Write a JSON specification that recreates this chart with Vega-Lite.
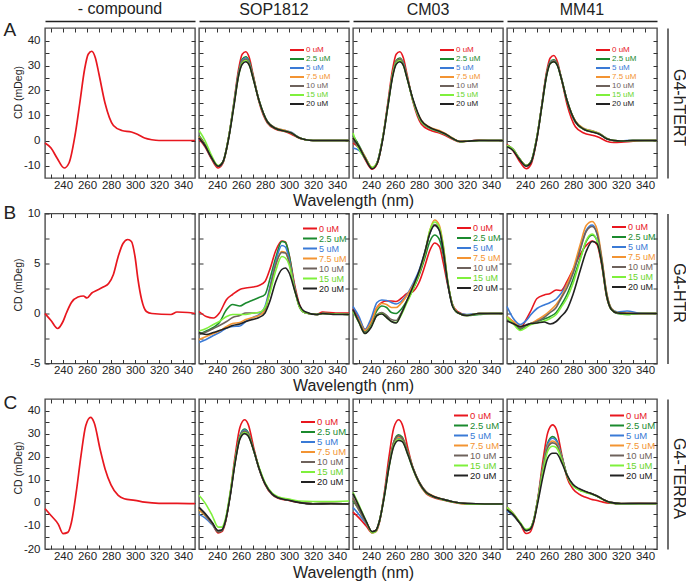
{
"$schema": "https://vega.github.io/schema/vega-lite/v6.json",
"background": "white",
"padding": {"left": 2, "top": 0, "right": 0, "bottom": 0},
"datasets": {"d": [
{"p":"A1","x":225,"a":-1},{"p":"A1","x":230,"a":-3},{"p":"A1","x":235,"a":-7},{"p":"A1","x":241,"a":-11},{"p":"A1","x":245,"a":-9},{"p":"A1","x":250,"a":2},{"p":"A1","x":254,"a":15},{"p":"A1","x":258,"a":28.5},{"p":"A1","x":261,"a":34.5},{"p":"A1","x":264,"a":35.7},{"p":"A1","x":267,"a":33},{"p":"A1","x":270,"a":26.5},{"p":"A1","x":275,"a":15},{"p":"A1","x":282,"a":6},{"p":"A1","x":289,"a":4},{"p":"A1","x":297,"a":3.4},{"p":"A1","x":302,"a":2.5},{"p":"A1","x":308,"a":1},{"p":"A1","x":314,"a":0.3},{"p":"A1","x":320,"a":0},{"p":"A1","x":330,"a":0},{"p":"A1","x":340,"a":0},{"p":"A1","x":350,"a":0},
{"p":"A2","x":225,"a":0.5,"b":2,"c":1,"d":1.5,"e":1,"f":4,"g":1},
{"p":"A2","x":230,"a":-2.5,"b":-1.5,"c":-2,"d":-1.8,"e":-2,"f":0,"g":-2},
{"p":"A2","x":235,"a":-7,"b":-6.5,"c":-6.5,"d":-6.5,"e":-6.5,"f":-5.5,"g":-6.5},
{"p":"A2","x":241,"a":-11,"b":-10.3,"c":-10.3,"d":-10.3,"e":-10.3,"f":-10,"g":-10.3},
{"p":"A2","x":245,"a":-9,"b":-8.5,"c":-8.5,"d":-8.5,"e":-8.5,"f":-8.5,"g":-8.5},
{"p":"A2","x":250,"a":2,"b":2,"c":2,"d":2,"e":2,"f":2,"g":1.5},
{"p":"A2","x":254,"a":15,"b":14.5,"c":14.5,"d":14,"e":14,"f":14,"g":13.5},
{"p":"A2","x":258,"a":28.5,"b":27,"c":27,"d":26.5,"e":26.5,"f":26,"g":26},
{"p":"A2","x":261,"a":34.5,"b":32.5,"c":32,"d":31.5,"e":31.5,"f":31,"g":30.5},
{"p":"A2","x":264,"a":35.5,"b":33.5,"c":33,"d":32.5,"e":32.5,"f":32,"g":31.5},
{"p":"A2","x":267,"a":33,"b":31.5,"c":31,"d":30.5,"e":30.5,"f":30,"g":30},
{"p":"A2","x":270,"a":26.5,"b":26,"c":25.5,"d":25.5,"e":25.5,"f":25,"g":25},
{"p":"A2","x":275,"a":15.5,"b":16,"c":16,"d":16,"e":16,"f":16,"g":16},
{"p":"A2","x":282,"a":7,"b":7.5,"c":7.5,"d":7.5,"e":7.5,"f":7.5,"g":7.5},
{"p":"A2","x":289,"a":4.5,"b":4.8,"c":5,"d":5,"e":4.8,"f":4.8,"g":4.8},
{"p":"A2","x":297,"a":3.5,"b":3.8,"c":4,"d":4,"e":3.7,"f":3.7,"g":3.7},
{"p":"A2","x":302,"a":2.5,"b":3,"c":3.3,"d":3,"e":3,"f":3,"g":3},
{"p":"A2","x":308,"a":1,"b":1.2,"c":1.2,"d":1.2,"e":1.2,"f":1.2,"g":1.2},
{"p":"A2","x":314,"a":0.3,"b":0.3,"c":0.3,"d":0.3,"e":0.3,"f":0.3,"g":0.3},
{"p":"A2","x":320,"a":0,"b":0,"c":0,"d":0,"e":0,"f":0,"g":0},
{"p":"A2","x":330,"a":0,"b":0,"c":0,"d":0,"e":0,"f":0,"g":0},
{"p":"A2","x":340,"a":0,"b":0,"c":0,"d":0,"e":0,"f":0,"g":0},
{"p":"A2","x":350,"a":0,"b":0,"c":0,"d":0,"e":0,"f":0,"g":0},
{"p":"A3","x":225,"a":-1,"b":2,"c":-3,"d":1,"e":0,"f":3,"g":1},
{"p":"A3","x":230,"a":-3,"b":-2,"c":-4,"d":-2.5,"e":-3,"f":-3.5,"g":-2.5},
{"p":"A3","x":235,"a":-7.5,"b":-6.5,"c":-7,"d":-6.5,"e":-7,"f":-7,"g":-7},
{"p":"A3","x":241,"a":-11.5,"b":-11,"c":-11,"d":-10.8,"e":-11,"f":-10.8,"g":-11.3},
{"p":"A3","x":245,"a":-9.5,"b":-9,"c":-9,"d":-9,"e":-9,"f":-9,"g":-9.3},
{"p":"A3","x":250,"a":1.5,"b":1.5,"c":1.5,"d":1.5,"e":1.5,"f":1.5,"g":1},
{"p":"A3","x":254,"a":15,"b":14,"c":14,"d":14,"e":14,"f":13.5,"g":13.5},
{"p":"A3","x":258,"a":28.5,"b":26.5,"c":26.5,"d":26.5,"e":26,"f":26,"g":25.5},
{"p":"A3","x":261,"a":34.5,"b":32,"c":31.5,"d":31.5,"e":31.5,"f":31,"g":30.5},
{"p":"A3","x":264,"a":35.5,"b":33,"c":32.5,"d":32.5,"e":32.5,"f":32,"g":31.5},
{"p":"A3","x":267,"a":33,"b":31,"c":31,"d":30.5,"e":30.5,"f":30,"g":30},
{"p":"A3","x":270,"a":26.5,"b":25.5,"c":25.5,"d":25.5,"e":25.5,"f":25,"g":25},
{"p":"A3","x":275,"a":15.5,"b":16,"c":16,"d":16,"e":16,"f":16,"g":16.5},
{"p":"A3","x":282,"a":6.5,"b":7.5,"c":7.5,"d":8,"e":7.5,"f":7.5,"g":8},
{"p":"A3","x":289,"a":4.2,"b":5,"c":5,"d":5.3,"e":5,"f":5,"g":5.2},
{"p":"A3","x":297,"a":3,"b":3.5,"c":3.5,"d":4,"e":3.5,"f":3.5,"g":3.7},
{"p":"A3","x":302,"a":2,"b":2.5,"c":2.5,"d":2.8,"e":2.5,"f":2.5,"g":2.6},
{"p":"A3","x":308,"a":0.5,"b":0.8,"c":0.8,"d":1,"e":0.8,"f":0.8,"g":0.8},
{"p":"A3","x":314,"a":-0.5,"b":-0.4,"c":-0.4,"d":-0.3,"e":-0.4,"f":-0.5,"g":-0.4},
{"p":"A3","x":320,"a":-0.3,"b":-0.3,"c":-0.2,"d":-0.2,"e":-0.3,"f":-0.3,"g":-0.3},
{"p":"A3","x":330,"a":0.2,"b":0,"c":0,"d":0,"e":0,"f":0,"g":0},
{"p":"A3","x":340,"a":0,"b":0,"c":0,"d":0,"e":0,"f":0,"g":0},
{"p":"A3","x":350,"a":0,"b":0,"c":0,"d":0,"e":0,"f":0,"g":0},
{"p":"A4","x":225,"a":-1.5,"b":-2,"c":-2,"d":-2,"e":-2.2,"f":-2,"g":-2.5},
{"p":"A4","x":230,"a":-4,"b":-3.5,"c":-3.5,"d":-3.5,"e":-3.5,"f":-3.5,"g":-4},
{"p":"A4","x":235,"a":-8,"b":-7,"c":-7,"d":-7,"e":-7,"f":-7,"g":-7.3},
{"p":"A4","x":241,"a":-11.3,"b":-10,"c":-10,"d":-10,"e":-10,"f":-10,"g":-10.3},
{"p":"A4","x":245,"a":-9.5,"b":-8.5,"c":-8.5,"d":-8.5,"e":-8.5,"f":-8.5,"g":-8.7},
{"p":"A4","x":250,"a":1,"b":1.5,"c":1.5,"d":1.5,"e":1.5,"f":1.5,"g":1},
{"p":"A4","x":254,"a":14,"b":14,"c":14,"d":14,"e":14,"f":13.5,"g":13.5},
{"p":"A4","x":258,"a":27.5,"b":26.5,"c":26.5,"d":26.5,"e":26.5,"f":26,"g":26},
{"p":"A4","x":261,"a":33,"b":31.5,"c":31.3,"d":31,"e":31,"f":30.8,"g":30.8},
{"p":"A4","x":264,"a":34,"b":32.3,"c":32,"d":31.8,"e":31.8,"f":31.5,"g":31.5},
{"p":"A4","x":267,"a":31.5,"b":30.5,"c":30.3,"d":30.3,"e":30.3,"f":30,"g":30},
{"p":"A4","x":270,"a":25.5,"b":25.5,"c":25.5,"d":25.5,"e":25.5,"f":25.3,"g":25.3},
{"p":"A4","x":275,"a":14.5,"b":16,"c":16,"d":16,"e":16,"f":16,"g":16},
{"p":"A4","x":282,"a":5.5,"b":7.5,"c":7.5,"d":7.8,"e":7.5,"f":7.5,"g":7.5},
{"p":"A4","x":289,"a":3,"b":4.5,"c":4.8,"d":4.8,"e":4.5,"f":4.5,"g":4.5},
{"p":"A4","x":297,"a":2,"b":3.5,"c":3.7,"d":3.7,"e":3.3,"f":3.5,"g":3.3},
{"p":"A4","x":302,"a":1.2,"b":2.6,"c":2.8,"d":2.8,"e":2.6,"f":2.6,"g":2.5},
{"p":"A4","x":308,"a":-0.3,"b":0.8,"c":0.8,"d":0.8,"e":0.8,"f":0.8,"g":0.7},
{"p":"A4","x":314,"a":-0.8,"b":0,"c":0,"d":0,"e":0,"f":0,"g":0},
{"p":"A4","x":320,"a":-0.7,"b":-0.2,"c":-0.2,"d":-0.2,"e":-0.2,"f":-0.2,"g":-0.2},
{"p":"A4","x":330,"a":-0.3,"b":0,"c":0.1,"d":0,"e":0,"f":0,"g":0},
{"p":"A4","x":340,"a":0,"b":0,"c":0,"d":0,"e":0,"f":0,"g":0},
{"p":"A4","x":350,"a":0,"b":0,"c":0,"d":0,"e":0,"f":0,"g":0},
{"p":"B1","x":225,"a":0},{"p":"B1","x":230,"a":-0.7},{"p":"B1","x":235.5,"a":-1.5},{"p":"B1","x":240,"a":-0.8},{"p":"B1","x":243,"a":0.1},{"p":"B1","x":247,"a":1.1},{"p":"B1","x":252.5,"a":1.65},{"p":"B1","x":257,"a":1.75},{"p":"B1","x":260,"a":1.55},{"p":"B1","x":264,"a":2.05},{"p":"B1","x":268,"a":2.3},{"p":"B1","x":273.5,"a":2.65},{"p":"B1","x":278,"a":3.0},{"p":"B1","x":282,"a":3.9},{"p":"B1","x":286,"a":5.7},{"p":"B1","x":290,"a":7.0},{"p":"B1","x":294,"a":7.4},{"p":"B1","x":297,"a":7.2},{"p":"B1","x":300,"a":5.7},{"p":"B1","x":302.5,"a":3.4},{"p":"B1","x":305.5,"a":1.4},{"p":"B1","x":309.5,"a":0.2},{"p":"B1","x":314,"a":0},{"p":"B1","x":330,"a":-0.1},{"p":"B1","x":335,"a":0.15},{"p":"B1","x":344,"a":0.1},{"p":"B1","x":350,"a":0},
{"p":"B2","x":225,"a":0.2,"b":-2.1,"c":-2.9,"d":-2.6,"e":-2.1,"f":-1.75,"g":-1.9},
{"p":"B2","x":231,"a":-0.3,"b":-1.75,"c":-2.6,"d":-2.3,"e":-1.85,"f":-1.5,"g":-2.1},
{"p":"B2","x":237,"a":-0.45,"b":-1.4,"c":-2.2,"d":-2.0,"e":-1.5,"f":-1.1,"g":-1.9},
{"p":"B2","x":242,"a":0.05,"b":-0.9,"c":-1.9,"d":-1.75,"e":-1.2,"f":-0.8,"g":-1.7},
{"p":"B2","x":248,"a":1.4,"b":0.4,"c":-1.45,"d":-1.3,"e":-0.8,"f":-0.3,"g":-1.45},
{"p":"B2","x":253,"a":1.9,"b":0.9,"c":-1.3,"d":-1.0,"e":-0.4,"f":-0.1,"g":-1.2},
{"p":"B2","x":259,"a":2.4,"b":0.75,"c":-1.25,"d":-0.9,"e":-0.2,"f":-0.1,"g":-1.05},
{"p":"B2","x":264,"a":2.55,"b":1.05,"c":-0.8,"d":-0.6,"e":0.05,"f":-0.1,"g":-0.8},
{"p":"B2","x":270,"a":2.65,"b":1.35,"c":-0.4,"d":-0.4,"e":0.05,"f":0.05,"g":-0.6},
{"p":"B2","x":275,"a":2.8,"b":1.6,"c":-0.1,"d":-0.2,"e":0.1,"f":0.1,"g":-0.4},
{"p":"B2","x":280,"a":3.2,"b":1.9,"c":0.7,"d":0.3,"e":0.45,"f":0.6,"g":0.05},
{"p":"B2","x":284,"a":4.4,"b":3.4,"c":2.6,"d":2.2,"e":2.4,"f":2.0,"g":1.2},
{"p":"B2","x":289,"a":6.3,"b":5.6,"c":5.2,"d":4.9,"e":4.9,"f":4.3,"g":3.2},
{"p":"B2","x":294,"a":7.25,"b":7.2,"c":6.8,"d":6.2,"e":6.1,"f":5.7,"g":4.4},
{"p":"B2","x":297,"a":7.15,"b":7.1,"c":6.65,"d":6.1,"e":6.05,"f":5.55,"g":4.55},
{"p":"B2","x":300,"a":5.9,"b":5.9,"c":5.5,"d":5.2,"e":5.2,"f":4.9,"g":4.1},
{"p":"B2","x":305,"a":2.7,"b":2.4,"c":2.4,"d":2.3,"e":2.3,"f":2.2,"g":2.2},
{"p":"B2","x":309,"a":0.8,"b":0.6,"c":0.6,"d":0.6,"e":0.6,"f":0.6,"g":0.8},
{"p":"B2","x":313,"a":0.1,"b":0.1,"c":0.1,"d":0.1,"e":0.1,"f":0.1,"g":0.2},
{"p":"B2","x":323,"a":-0.1,"b":-0.1,"c":-0.1,"d":-0.1,"e":-0.1,"f":-0.1,"g":-0.1},
{"p":"B2","x":328,"a":0.15,"b":0,"c":0,"d":0,"e":0,"f":0,"g":0},
{"p":"B2","x":339,"a":0.05,"b":-0.05,"c":-0.05,"d":-0.05,"e":-0.05,"f":-0.05,"g":-0.1},
{"p":"B2","x":350,"a":0.05,"b":-0.1,"c":-0.1,"d":-0.1,"e":-0.1,"f":-0.1,"g":-0.1},
{"p":"B3","x":225,"a":0.5,"b":0.3,"c":0.7,"d":0.3,"e":0.4,"f":0.2,"g":0.4},
{"p":"B3","x":230,"a":-0.5,"b":-0.8,"c":-0.3,"d":-0.7,"e":-0.8,"f":-0.9,"g":-0.9},
{"p":"B3","x":235,"a":-1.6,"b":-1.8,"c":-1.6,"d":-1.7,"e":-1.9,"f":-2.0,"g":-2.0},
{"p":"B3","x":240,"a":-0.7,"b":-1.0,"c":-0.5,"d":-0.9,"e":-1.2,"f":-1.3,"g":-1.4},
{"p":"B3","x":245,"a":0.6,"b":0.3,"c":1.1,"d":0.6,"e":-0.1,"f":-0.2,"g":-0.2},
{"p":"B3","x":249,"a":1.1,"b":0.75,"c":1.35,"d":1.0,"e":0.1,"f":0,"g":-0.05},
{"p":"B3","x":253,"a":1.25,"b":0.6,"c":1.3,"d":0.9,"e":-0.2,"f":-0.4,"g":-0.4},
{"p":"B3","x":257,"a":1.25,"b":0.1,"c":1.1,"d":0.6,"e":-0.6,"f":-0.8,"g":-0.8},
{"p":"B3","x":261,"a":1.2,"b":0,"c":0.95,"d":0.6,"e":-0.7,"f":-0.9,"g":-0.95},
{"p":"B3","x":265,"a":1.5,"b":0.4,"c":1.2,"d":1.0,"e":0,"f":-0.2,"g":-0.1},
{"p":"B3","x":270,"a":2.0,"b":1.3,"c":1.9,"d":1.8,"e":1.2,"f":1.1,"g":1.3},
{"p":"B3","x":275,"a":2.2,"b":2.4,"c":3.0,"d":2.8,"e":2.5,"f":2.4,"g":2.7},
{"p":"B3","x":280,"a":3.1,"b":3.8,"c":4.3,"d":4.0,"e":4.0,"f":4.0,"g":4.2},
{"p":"B3","x":285,"a":4.8,"b":5.6,"c":6.2,"d":6.0,"e":6.1,"f":6.1,"g":6.2},
{"p":"B3","x":289,"a":6.3,"b":7.2,"c":8.0,"d":8.3,"e":8.1,"f":8.3,"g":8.0},
{"p":"B3","x":293,"a":7.05,"b":7.85,"c":8.85,"d":9.35,"e":8.9,"f":9.15,"g":8.8},
{"p":"B3","x":297,"a":6.7,"b":7.4,"c":8.3,"d":8.8,"e":8.4,"f":8.6,"g":8.3},
{"p":"B3","x":300,"a":5.2,"b":6.0,"c":6.5,"d":7.0,"e":6.7,"f":6.9,"g":6.5},
{"p":"B3","x":304,"a":2.8,"b":3.0,"c":3.0,"d":3.2,"e":3.1,"f":3.2,"g":3.0},
{"p":"B3","x":308,"a":0.9,"b":0.8,"c":0.8,"d":0.8,"e":0.8,"f":0.8,"g":0.7},
{"p":"B3","x":312,"a":0.2,"b":0.1,"c":0.1,"d":0.1,"e":0.1,"f":0.1,"g":0.1},
{"p":"B3","x":320,"a":-0.15,"b":-0.2,"c":-0.1,"d":-0.2,"e":-0.2,"f":-0.2,"g":-0.2},
{"p":"B3","x":330,"a":0,"b":-0.1,"c":0,"d":0,"e":0,"f":0,"g":0},
{"p":"B3","x":340,"a":0,"b":0,"c":0,"d":0,"e":0,"f":0,"g":0},
{"p":"B3","x":350,"a":0,"b":0,"c":0,"d":0,"e":0,"f":0,"g":0},
{"p":"B4","x":225,"a":-0.4,"b":-0.3,"c":0.7,"d":-0.3,"e":-0.65,"f":-0.4,"g":-0.75},
{"p":"B4","x":230,"a":-0.8,"b":-0.9,"c":-0.45,"d":-0.8,"e":-1.0,"f":-1.0,"g":-1.0},
{"p":"B4","x":236,"a":-1.45,"b":-1.6,"c":-1.1,"d":-1.3,"e":-1.45,"f":-1.7,"g":-1.3},
{"p":"B4","x":241,"a":-0.6,"b":-1.2,"c":-0.7,"d":-1.2,"e":-1.2,"f":-1.4,"g":-1.15},
{"p":"B4","x":245,"a":0.3,"b":-1.0,"c":-0.1,"d":-1.0,"e":-1.0,"f":-1.1,"g":-1.0},
{"p":"B4","x":250,"a":1.5,"b":-0.8,"c":0.5,"d":-0.65,"e":-0.8,"f":-0.95,"g":-0.95},
{"p":"B4","x":256,"a":1.85,"b":-0.55,"c":0.85,"d":-0.2,"e":-0.4,"f":-0.75,"g":-0.85},
{"p":"B4","x":261,"a":2.0,"b":-0.3,"c":1.1,"d":0.3,"e":0.1,"f":-0.5,"g":-1.05},
{"p":"B4","x":266,"a":2.35,"b":0.1,"c":1.45,"d":0.9,"e":0.6,"f":-0.1,"g":-0.8},
{"p":"B4","x":270,"a":2.3,"b":0.8,"c":2.0,"d":1.6,"e":1.5,"f":0.6,"g":-0.3},
{"p":"B4","x":275,"a":3.2,"b":1.9,"c":2.9,"d":2.9,"e":2.55,"f":1.55,"g":0.4},
{"p":"B4","x":280,"a":4.4,"b":3.4,"c":4.1,"d":4.4,"e":4.0,"f":3.0,"g":1.9},
{"p":"B4","x":286,"a":5.9,"b":5.5,"c":6.5,"d":6.9,"e":6.35,"f":5.35,"g":4.3},
{"p":"B4","x":291,"a":6.8,"b":7.2,"c":8.3,"d":8.8,"e":8.2,"f":7.3,"g":6.2},
{"p":"B4","x":296,"a":7.25,"b":7.85,"c":8.85,"d":9.2,"e":8.7,"f":7.95,"g":7.2},
{"p":"B4","x":300,"a":6.9,"b":7.3,"c":8.0,"d":8.4,"e":8.0,"f":7.3,"g":7.0},
{"p":"B4","x":304,"a":4.8,"b":5.0,"c":5.3,"d":5.6,"e":5.4,"f":5.0,"g":5.0},
{"p":"B4","x":308,"a":1.7,"b":1.8,"c":2.0,"d":2.1,"e":2.0,"f":1.8,"g":1.8},
{"p":"B4","x":312,"a":0.4,"b":0.4,"c":0.5,"d":0.5,"e":0.45,"f":0.4,"g":0.4},
{"p":"B4","x":317,"a":0.05,"b":0,"c":0.15,"d":0.1,"e":0.05,"f":0.05,"g":0.05},
{"p":"B4","x":325,"a":0,"b":-0.1,"c":0.25,"d":0.05,"e":0,"f":-0.1,"g":0},
{"p":"B4","x":335,"a":0,"b":0,"c":0.05,"d":0,"e":0,"f":0,"g":0},
{"p":"B4","x":350,"a":0,"b":0,"c":0,"d":0,"e":0,"f":0,"g":0},
{"p":"C1","x":225,"a":-2.5},{"p":"C1","x":230,"a":-5.5},{"p":"C1","x":236,"a":-9.2},{"p":"C1","x":240,"a":-13.3},{"p":"C1","x":244,"a":-12.8},{"p":"C1","x":247,"a":-8.5},{"p":"C1","x":251,"a":4.5},{"p":"C1","x":255,"a":20.5},{"p":"C1","x":259,"a":33.5},{"p":"C1","x":263,"a":37},{"p":"C1","x":266,"a":34.7},{"p":"C1","x":271,"a":23},{"p":"C1","x":275,"a":14.8},{"p":"C1","x":280,"a":7.8},{"p":"C1","x":286,"a":3.2},{"p":"C1","x":291,"a":1.8},{"p":"C1","x":300,"a":1.1},{"p":"C1","x":308,"a":0.3},{"p":"C1","x":320,"a":-0.2},{"p":"C1","x":335,"a":-0.2},{"p":"C1","x":350,"a":-0.3},
{"p":"C2","x":225,"a":-2,"b":-3,"c":-5,"d":-3,"e":-2,"f":3.3,"g":-2},
{"p":"C2","x":230,"a":-5,"b":-5.5,"c":-6.5,"d":-5.5,"e":-5,"f":0,"g":-4.5},
{"p":"C2","x":236,"a":-9,"b":-9,"c":-9.5,"d":-9,"e":-9,"f":-5.5,"g":-8.5},
{"p":"C2","x":241,"a":-13,"b":-12.5,"c":-12.3,"d":-12.3,"e":-12.5,"f":-10.5,"g":-12},
{"p":"C2","x":244,"a":-12.5,"b":-12,"c":-11.8,"d":-11.8,"e":-12,"f":-10.5,"g":-11.8},
{"p":"C2","x":247,"a":-8.5,"b":-8,"c":-8,"d":-8,"e":-8,"f":-7,"g":-8},
{"p":"C2","x":251,"a":4,"b":3.5,"c":3.5,"d":3.5,"e":3.5,"f":4.5,"g":3},
{"p":"C2","x":255,"a":20,"b":18,"c":18,"d":17.5,"e":17.5,"f":18,"g":17},
{"p":"C2","x":259,"a":32.5,"b":29,"c":28.5,"d":28,"e":28,"f":28,"g":27.5},
{"p":"C2","x":263,"a":36,"b":32,"c":31.5,"d":31,"e":31,"f":30.5,"g":30},
{"p":"C2","x":266,"a":34,"b":30.5,"c":30,"d":29.8,"e":29.8,"f":29.3,"g":29},
{"p":"C2","x":271,"a":23,"b":22,"c":22,"d":22,"e":22,"f":22,"g":22},
{"p":"C2","x":275,"a":15,"b":15,"c":15,"d":15,"e":15,"f":15.5,"g":15},
{"p":"C2","x":280,"a":8,"b":8.3,"c":8.3,"d":8.3,"e":8.3,"f":8.8,"g":8.3},
{"p":"C2","x":286,"a":3.5,"b":3.8,"c":3.8,"d":3.8,"e":3.8,"f":4.2,"g":3.8},
{"p":"C2","x":291,"a":2,"b":2.2,"c":2.2,"d":2.2,"e":2.2,"f":2.6,"g":2.2},
{"p":"C2","x":300,"a":1,"b":1.2,"c":1.2,"d":1.2,"e":1.2,"f":1.6,"g":1.1},
{"p":"C2","x":308,"a":0.2,"b":0.3,"c":0.3,"d":0.3,"e":0.3,"f":0.8,"g":0.2},
{"p":"C2","x":320,"a":-0.4,"b":-0.4,"c":-0.4,"d":-0.4,"e":-0.4,"f":0.6,"g":-0.5},
{"p":"C2","x":335,"a":-0.3,"b":-0.3,"c":-0.3,"d":-0.3,"e":-0.3,"f":0.6,"g":-0.4},
{"p":"C2","x":350,"a":-0.4,"b":-0.4,"c":-0.4,"d":-0.4,"e":-0.4,"f":0.8,"g":-0.5},
{"p":"C3","x":225,"a":-4,"b":1,"c":-2,"d":2,"e":2,"f":4.5,"g":4},
{"p":"C3","x":230,"a":-6.5,"b":-3,"c":-5,"d":-3,"e":-3,"f":-1,"g":-1.5},
{"p":"C3","x":236,"a":-10,"b":-8.5,"c":-9,"d":-8.5,"e":-8.5,"f":-8,"g":-8},
{"p":"C3","x":241,"a":-13,"b":-12.5,"c":-12.5,"d":-12.5,"e":-12.5,"f":-13,"g":-12.5},
{"p":"C3","x":244,"a":-12.5,"b":-12,"c":-12,"d":-12,"e":-12,"f":-12.5,"g":-12},
{"p":"C3","x":247,"a":-8.5,"b":-8,"c":-8,"d":-8,"e":-8,"f":-8,"g":-8},
{"p":"C3","x":251,"a":4,"b":3,"c":3,"d":3,"e":3,"f":2.5,"g":2.5},
{"p":"C3","x":255,"a":20,"b":16.5,"c":16,"d":16,"e":16.2,"f":15.5,"g":15.5},
{"p":"C3","x":259,"a":32.5,"b":26.5,"c":25.5,"d":26,"e":26.3,"f":25,"g":24.5},
{"p":"C3","x":263,"a":36,"b":29.5,"c":28,"d":28.5,"e":29,"f":27.5,"g":27},
{"p":"C3","x":266,"a":34,"b":28.5,"c":27.5,"d":27.8,"e":28,"f":26.8,"g":26.5},
{"p":"C3","x":271,"a":23,"b":21.5,"c":21,"d":21.5,"e":21.5,"f":20.5,"g":20.5},
{"p":"C3","x":275,"a":15,"b":15,"c":15,"d":15.2,"e":15.2,"f":14.5,"g":14.8},
{"p":"C3","x":280,"a":8.5,"b":9,"c":9,"d":9.2,"e":9.2,"f":8.8,"g":9},
{"p":"C3","x":286,"a":4,"b":4.5,"c":4.5,"d":4.8,"e":4.8,"f":4.3,"g":4.5},
{"p":"C3","x":291,"a":2.5,"b":3,"c":3,"d":3.2,"e":3,"f":2.8,"g":3},
{"p":"C3","x":300,"a":1.2,"b":1.5,"c":1.5,"d":1.6,"e":1.5,"f":1.4,"g":1.5},
{"p":"C3","x":308,"a":0.3,"b":0.5,"c":0.5,"d":0.5,"e":0.5,"f":0.4,"g":0.5},
{"p":"C3","x":320,"a":-0.5,"b":-0.3,"c":-0.3,"d":-0.3,"e":-0.3,"f":-0.5,"g":-0.3},
{"p":"C3","x":335,"a":-0.5,"b":-0.5,"c":-0.5,"d":-0.5,"e":-0.5,"f":-0.6,"g":-0.5},
{"p":"C3","x":350,"a":-0.5,"b":-0.5,"c":-0.5,"d":-0.5,"e":-0.5,"f":-0.6,"g":-0.5},
{"p":"C4","x":225,"a":-2,"b":-2.5,"c":-3.5,"d":-2.5,"e":-2.5,"f":-2,"g":-3},
{"p":"C4","x":230,"a":-4.5,"b":-5,"c":-5.5,"d":-5,"e":-5,"f":-4.5,"g":-5},
{"p":"C4","x":236,"a":-9,"b":-9,"c":-9,"d":-9,"e":-9,"f":-8.5,"g":-9},
{"p":"C4","x":241,"a":-13.3,"b":-12,"c":-12,"d":-12,"e":-12,"f":-11.5,"g":-12},
{"p":"C4","x":244,"a":-12.8,"b":-11.5,"c":-11.5,"d":-11.5,"e":-11.5,"f":-11,"g":-11.5},
{"p":"C4","x":247,"a":-9,"b":-8,"c":-8,"d":-8,"e":-8,"f":-8,"g":-8.5},
{"p":"C4","x":251,"a":3,"b":2.5,"c":2.5,"d":2.5,"e":2.3,"f":2,"g":1},
{"p":"C4","x":255,"a":18.5,"b":16,"c":15.5,"d":15,"e":14.5,"f":13.5,"g":11.5},
{"p":"C4","x":259,"a":30.5,"b":26,"c":25.5,"d":24.5,"e":24,"f":22.5,"g":19.5},
{"p":"C4","x":263,"a":33.8,"b":28.7,"c":28,"d":26.8,"e":26,"f":24.5,"g":21.5},
{"p":"C4","x":266,"a":32,"b":27.5,"c":27,"d":26,"e":25.3,"f":24,"g":21.5},
{"p":"C4","x":271,"a":20,"b":19.5,"c":19.3,"d":19,"e":18.8,"f":18,"g":17},
{"p":"C4","x":275,"a":11,"b":12,"c":12,"d":12,"e":12,"f":11.8,"g":12},
{"p":"C4","x":280,"a":6,"b":7.5,"c":7.5,"d":7.5,"e":7.5,"f":7.3,"g":8},
{"p":"C4","x":285,"a":3.8,"b":5.8,"c":5.8,"d":5.8,"e":5.8,"f":5.6,"g":6.2},
{"p":"C4","x":290,"a":2.5,"b":4.8,"c":4.8,"d":4.8,"e":4.8,"f":4.6,"g":5},
{"p":"C4","x":295,"a":1.6,"b":4,"c":4,"d":4,"e":4,"f":3.8,"g":4.1},
{"p":"C4","x":300,"a":1,"b":3,"c":3,"d":3,"e":3,"f":2.8,"g":3},
{"p":"C4","x":305,"a":0.3,"b":1.5,"c":1.5,"d":1.5,"e":1.5,"f":1.4,"g":1.5},
{"p":"C4","x":311,"a":-0.2,"b":0.2,"c":0.2,"d":0.2,"e":0.2,"f":0.1,"g":0.2},
{"p":"C4","x":320,"a":-0.4,"b":-0.4,"c":-0.4,"d":-0.3,"e":-0.3,"f":-0.4,"g":-0.3},
{"p":"C4","x":335,"a":-0.2,"b":-0.3,"c":-0.3,"d":-0.3,"e":-0.3,"f":-0.4,"g":-0.3},
{"p":"C4","x":350,"a":-0.3,"b":-0.3,"c":-0.3,"d":-0.3,"e":-0.3,"f":-0.4,"g":-0.3}
]},
"columns": 4,
"bounds": "flush",
"spacing": {"row": 35.5, "column": 4},
"resolve": {"scale": {"color": "independent"}, "legend": {"color": "independent"}},
"concat": [
{"width":150,"height":150,"data":{"name":"d"},"transform":[{"filter":"datum.p=='A1'"}],
 "title":{"text":"- compound","frame":"group"},
 "layer":[
  {"mark":{"type":"line","interpolate":"monotone","strokeWidth":1.7,"color":"#e8171f"},
   "encoding":{"x":{"field":"x","type":"quantitative","scale":{"domain":[225,350],"nice":false},"axis":{"orient":"bottom","values":[230,240,250,260,270,280,290,300,310,320,330,340],"labelExpr":"datum.value % 20 == 0 ? '' + datum.value : ''","title":null}},
   "y":{"field":"a","type":"quantitative","scale":{"domain":[-15,45],"nice":false},"axis":{"orient":"left","values":[-10,-5,0,5,10,15,20,25,30,35,40],"labelExpr":"datum.value % 10 == 0 ? '' + datum.value : ''","title":"CD (mDeg)","titleFontSize":10.5,"titleX":-26.5,"titleY":64,"titleAlign":"center","titleBaseline":"middle"}}}},
  {"mark":{"type":"line","opacity":0},"encoding":{"x":{"field":"x","type":"quantitative","axis":{"orient":"top","values":[230,240,250,260,270,280,290,300,310,320,330,340],"labels":false,"title":null}},"y":{"field":"a","type":"quantitative","axis":{"orient":"right","values":[-10,-5,0,5,10,15,20,25,30,35,40],"labels":false,"title":null}}}},
  {"mark":{"type":"line","opacity":0},"encoding":{"x":{"field":"x","type":"quantitative","axis":{"orient":"top","offset":7,"domain":true,"domainColor":"#222","domainWidth":1.3,"ticks":false,"labels":false,"title":null}},"y":{"field":"a","type":"quantitative","axis":{"orient":"left","domain":false,"ticks":false,"labels":false,"title":"A","titleAngle":0,"titleX":-42,"titleY":7,"titleAlign":"left","titleBaseline":"alphabetic","titleFontSize":19}}}}
 ],
 "resolve":{"axis":{"x":"independent","y":"independent"}}},
{"width":150,"height":150,"data":{"name":"d"},"transform":[{"filter":"datum.p=='A2'"},{"fold":["a","b","c","d","e","f","g"],"as":["s","v"]}],
 "title":{"text":"SOP1812","frame":"group"},
 "layer":[
  {"mark":{"type":"line","interpolate":"monotone","strokeWidth":1.6},
   "encoding":{"x":{"field":"x","type":"quantitative","scale":{"domain":[225,350],"nice":false},"axis":{"orient":"bottom","values":[230,240,250,260,270,280,290,300,310,320,330,340],"labelExpr":"datum.value % 20 == 0 ? '' + datum.value : ''","title":"Wavelength (nm)","titleFontSize":16,"titleX":154,"titleY":27,"titleAlign":"center","titleBaseline":"alphabetic"}},
   "y":{"field":"v","type":"quantitative","scale":{"domain":[-15,45],"nice":false},"axis":{"orient":"left","values":[-10,-5,0,5,10,15,20,25,30,35,40],"labels":false,"title":null}},
   "color":{"field":"s","type":"nominal","scale":{"domain":["a","b","c","d","e","f","g"],"range":["#e8171f","#1b8a2e","#3a7ad6","#f39432","#6e625c","#7ff03c","#222222"]},
    "legend":{"title":null,"orient":"none","legendX":93,"legendY":17,"labelFontSize":8,"rowPadding":-0.6,"labelExpr":"['0 uM','2.5 uM','5 uM','7.5 uM','10 uM','15 uM','20 uM'][indexof(['a','b','c','d','e','f','g'], datum.value)]","labelColor":{"expr":"['#e8171f','#1b8a2e','#3a7ad6','#f39432','#6e625c','#6ad62c','#222222'][indexof(['a','b','c','d','e','f','g'], datum.value)]"}}}}},
  {"mark":{"type":"line","opacity":0},"encoding":{"x":{"field":"x","type":"quantitative","axis":{"orient":"top","values":[230,240,250,260,270,280,290,300,310,320,330,340],"labels":false,"title":null}},"y":{"field":"v","type":"quantitative","axis":{"orient":"right","values":[-10,-5,0,5,10,15,20,25,30,35,40],"labels":false,"title":null}}}},
  {"mark":{"type":"line","opacity":0},"encoding":{"x":{"field":"x","type":"quantitative","axis":{"orient":"top","offset":7,"domain":true,"domainColor":"#222","domainWidth":1.3,"ticks":false,"labels":false,"title":null}},"y":{"field":"v","type":"quantitative","axis":null}}}
 ],
 "resolve":{"axis":{"x":"independent","y":"independent"}}},
{"width":150,"height":150,"data":{"name":"d"},"transform":[{"filter":"datum.p=='A3'"},{"fold":["a","b","c","d","e","f","g"],"as":["s","v"]}],
 "title":{"text":"CM03","frame":"group"},
 "layer":[
  {"mark":{"type":"line","interpolate":"monotone","strokeWidth":1.6},
   "encoding":{"x":{"field":"x","type":"quantitative","scale":{"domain":[225,350],"nice":false},"axis":{"orient":"bottom","values":[230,240,250,260,270,280,290,300,310,320,330,340],"labelExpr":"datum.value % 20 == 0 ? '' + datum.value : ''","title":null}},
   "y":{"field":"v","type":"quantitative","scale":{"domain":[-15,45],"nice":false},"axis":{"orient":"left","values":[-10,-5,0,5,10,15,20,25,30,35,40],"labels":false,"title":null}},
   "color":{"field":"s","type":"nominal","scale":{"domain":["a","b","c","d","e","f","g"],"range":["#e8171f","#1b8a2e","#3a7ad6","#f39432","#6e625c","#7ff03c","#222222"]},
    "legend":{"title":null,"orient":"none","legendX":89,"legendY":17,"labelFontSize":8,"rowPadding":-0.6,"labelExpr":"['0 uM','2.5 uM','5 uM','7.5 uM','10 uM','15 uM','20 uM'][indexof(['a','b','c','d','e','f','g'], datum.value)]","labelColor":{"expr":"['#e8171f','#1b8a2e','#3a7ad6','#f39432','#6e625c','#6ad62c','#222222'][indexof(['a','b','c','d','e','f','g'], datum.value)]"}}}}},
  {"mark":{"type":"line","opacity":0},"encoding":{"x":{"field":"x","type":"quantitative","axis":{"orient":"top","values":[230,240,250,260,270,280,290,300,310,320,330,340],"labels":false,"title":null}},"y":{"field":"v","type":"quantitative","axis":{"orient":"right","values":[-10,-5,0,5,10,15,20,25,30,35,40],"labels":false,"title":null}}}},
  {"mark":{"type":"line","opacity":0},"encoding":{"x":{"field":"x","type":"quantitative","axis":{"orient":"top","offset":7,"domain":true,"domainColor":"#222","domainWidth":1.3,"ticks":false,"labels":false,"title":null}},"y":{"field":"v","type":"quantitative","axis":null}}}
 ],
 "resolve":{"axis":{"x":"independent","y":"independent"}}},
{"width":150,"height":150,"data":{"name":"d"},"transform":[{"filter":"datum.p=='A4'"},{"fold":["a","b","c","d","e","f","g"],"as":["s","v"]}],
 "title":{"text":"MM41","frame":"group"},
 "layer":[
  {"mark":{"type":"line","interpolate":"monotone","strokeWidth":1.6},
   "encoding":{"x":{"field":"x","type":"quantitative","scale":{"domain":[225,350],"nice":false},"axis":{"orient":"bottom","values":[230,240,250,260,270,280,290,300,310,320,330,340],"labelExpr":"datum.value % 20 == 0 ? '' + datum.value : ''","title":null}},
   "y":{"field":"v","type":"quantitative","scale":{"domain":[-15,45],"nice":false},"axis":{"orient":"left","values":[-10,-5,0,5,10,15,20,25,30,35,40],"labels":false,"title":null}},
   "color":{"field":"s","type":"nominal","scale":{"domain":["a","b","c","d","e","f","g"],"range":["#e8171f","#1b8a2e","#3a7ad6","#f39432","#6e625c","#7ff03c","#222222"]},
    "legend":{"title":null,"orient":"none","legendX":91,"legendY":17,"labelFontSize":8,"rowPadding":-0.6,"labelExpr":"['0 uM','2.5 uM','5 uM','7.5 uM','10 uM','15 uM','20 uM'][indexof(['a','b','c','d','e','f','g'], datum.value)]","labelColor":{"expr":"['#e8171f','#1b8a2e','#3a7ad6','#f39432','#6e625c','#6ad62c','#222222'][indexof(['a','b','c','d','e','f','g'], datum.value)]"}}}}},
  {"mark":{"type":"line","opacity":0},"encoding":{"x":{"field":"x","type":"quantitative","axis":{"orient":"top","values":[230,240,250,260,270,280,290,300,310,320,330,340],"labels":false,"title":null}},"y":{"field":"v","type":"quantitative","axis":{"orient":"right","values":[-10,-5,0,5,10,15,20,25,30,35,40],"labels":false,"title":null}}}},
  {"mark":{"type":"line","opacity":0},"encoding":{"x":{"field":"x","type":"quantitative","axis":{"orient":"top","offset":7,"domain":true,"domainColor":"#222","domainWidth":1.3,"ticks":false,"labels":false,"title":null}},"y":{"field":"v","type":"quantitative","axis":{"orient":"right","offset":10.5,"domain":true,"domainColor":"#222","domainWidth":1.3,"ticks":false,"labels":false,"title":"G4-hTERT","titleFontSize":16,"titleAngle":90,"titleX":10.5,"titleY":79,"titleAlign":"center","titleBaseline":"middle"}}}}
 ],
 "resolve":{"axis":{"x":"independent","y":"independent"}}},
{"width":150,"height":150,"data":{"name":"d"},"transform":[{"filter":"datum.p=='B1'"}],
 "layer":[
  {"mark":{"type":"line","interpolate":"monotone","strokeWidth":1.7,"color":"#e8171f"},
   "encoding":{"x":{"field":"x","type":"quantitative","scale":{"domain":[225,350],"nice":false},"axis":{"orient":"bottom","values":[230,240,250,260,270,280,290,300,310,320,330,340],"labelExpr":"datum.value % 20 == 0 ? '' + datum.value : ''","title":null}},
   "y":{"field":"a","type":"quantitative","scale":{"domain":[-5,10],"nice":false},"axis":{"orient":"left","values":[-5,-2.5,0,2.5,5,7.5,10],"labelExpr":"datum.value % 5 == 0 ? '' + datum.value : ''","title":"CD (mDeg)","titleFontSize":10.5,"titleX":-26.5,"titleY":71,"titleAlign":"center","titleBaseline":"middle"}}}},
  {"mark":{"type":"line","opacity":0},"encoding":{"x":{"field":"x","type":"quantitative","axis":{"orient":"top","values":[230,240,250,260,270,280,290,300,310,320,330,340],"labels":false,"title":null}},"y":{"field":"a","type":"quantitative","axis":{"orient":"right","values":[-5,-2.5,0,2.5,5,7.5,10],"labels":false,"title":null}}}},
  {"mark":{"type":"line","opacity":0},"encoding":{"x":{"field":"x","type":"quantitative","axis":null},"y":{"field":"a","type":"quantitative","axis":{"orient":"left","domain":false,"ticks":false,"labels":false,"title":"B","titleAngle":0,"titleX":-42,"titleY":5,"titleAlign":"left","titleBaseline":"alphabetic","titleFontSize":19}}}}
 ],
 "resolve":{"axis":{"x":"independent","y":"independent"}}},
{"width":150,"height":150,"data":{"name":"d"},"transform":[{"filter":"datum.p=='B2'"},{"fold":["a","b","c","d","e","f","g"],"as":["s","v"]}],
 "layer":[
  {"mark":{"type":"line","interpolate":"monotone","strokeWidth":1.6},
   "encoding":{"x":{"field":"x","type":"quantitative","scale":{"domain":[225,350],"nice":false},"axis":{"orient":"bottom","values":[230,240,250,260,270,280,290,300,310,320,330,340],"labelExpr":"datum.value % 20 == 0 ? '' + datum.value : ''","title":"Wavelength (nm)","titleFontSize":16,"titleX":154,"titleY":27,"titleAlign":"center","titleBaseline":"alphabetic"}},
   "y":{"field":"v","type":"quantitative","scale":{"domain":[-5,10],"nice":false},"axis":{"orient":"left","values":[-5,-2.5,0,2.5,5,7.5,10],"labels":false,"title":null}},
   "color":{"field":"s","type":"nominal","scale":{"domain":["a","b","c","d","e","f","g"],"range":["#e8171f","#1b8a2e","#3a7ad6","#f39432","#6e625c","#7ff03c","#222222"]},
    "legend":{"title":null,"orient":"none","legendX":106,"legendY":10,"labelFontSize":9,"rowPadding":-0.6,"labelExpr":"['0 uM','2.5 uM','5 uM','7.5 uM','10 uM','15 uM','20 uM'][indexof(['a','b','c','d','e','f','g'], datum.value)]","labelColor":{"expr":"['#e8171f','#1b8a2e','#3a7ad6','#f39432','#6e625c','#6ad62c','#222222'][indexof(['a','b','c','d','e','f','g'], datum.value)]"}}}}},
  {"mark":{"type":"line","opacity":0},"encoding":{"x":{"field":"x","type":"quantitative","axis":{"orient":"top","values":[230,240,250,260,270,280,290,300,310,320,330,340],"labels":false,"title":null}},"y":{"field":"v","type":"quantitative","axis":{"orient":"right","values":[-5,-2.5,0,2.5,5,7.5,10],"labels":false,"title":null}}}}
 ],
 "resolve":{"axis":{"x":"independent","y":"independent"}}},
{"width":150,"height":150,"data":{"name":"d"},"transform":[{"filter":"datum.p=='B3'"},{"fold":["a","b","c","d","e","f","g"],"as":["s","v"]}],
 "layer":[
  {"mark":{"type":"line","interpolate":"monotone","strokeWidth":1.6},
   "encoding":{"x":{"field":"x","type":"quantitative","scale":{"domain":[225,350],"nice":false},"axis":{"orient":"bottom","values":[230,240,250,260,270,280,290,300,310,320,330,340],"labelExpr":"datum.value % 20 == 0 ? '' + datum.value : ''","title":null}},
   "y":{"field":"v","type":"quantitative","scale":{"domain":[-5,10],"nice":false},"axis":{"orient":"left","values":[-5,-2.5,0,2.5,5,7.5,10],"labels":false,"title":null}},
   "color":{"field":"s","type":"nominal","scale":{"domain":["a","b","c","d","e","f","g"],"range":["#e8171f","#1b8a2e","#3a7ad6","#f39432","#6e625c","#7ff03c","#222222"]},
    "legend":{"title":null,"orient":"none","legendX":106,"legendY":9.5,"labelFontSize":9,"rowPadding":-0.6,"labelExpr":"['0 uM','2.5 uM','5 uM','7.5 uM','10 uM','15 uM','20 uM'][indexof(['a','b','c','d','e','f','g'], datum.value)]","labelColor":{"expr":"['#e8171f','#1b8a2e','#3a7ad6','#f39432','#6e625c','#6ad62c','#222222'][indexof(['a','b','c','d','e','f','g'], datum.value)]"}}}}},
  {"mark":{"type":"line","opacity":0},"encoding":{"x":{"field":"x","type":"quantitative","axis":{"orient":"top","values":[230,240,250,260,270,280,290,300,310,320,330,340],"labels":false,"title":null}},"y":{"field":"v","type":"quantitative","axis":{"orient":"right","values":[-5,-2.5,0,2.5,5,7.5,10],"labels":false,"title":null}}}}
 ],
 "resolve":{"axis":{"x":"independent","y":"independent"}}},
{"width":150,"height":150,"data":{"name":"d"},"transform":[{"filter":"datum.p=='B4'"},{"fold":["a","b","c","d","e","f","g"],"as":["s","v"]}],
 "layer":[
  {"mark":{"type":"line","interpolate":"monotone","strokeWidth":1.6},
   "encoding":{"x":{"field":"x","type":"quantitative","scale":{"domain":[225,350],"nice":false},"axis":{"orient":"bottom","values":[230,240,250,260,270,280,290,300,310,320,330,340],"labelExpr":"datum.value % 20 == 0 ? '' + datum.value : ''","title":null}},
   "y":{"field":"v","type":"quantitative","scale":{"domain":[-5,10],"nice":false},"axis":{"orient":"left","values":[-5,-2.5,0,2.5,5,7.5,10],"labels":false,"title":null}},
   "color":{"field":"s","type":"nominal","scale":{"domain":["a","b","c","d","e","f","g"],"range":["#e8171f","#1b8a2e","#3a7ad6","#f39432","#6e625c","#7ff03c","#222222"]},
    "legend":{"title":null,"orient":"none","legendX":107,"legendY":8.5,"labelFontSize":9,"rowPadding":-0.6,"labelExpr":"['0 uM','2.5 uM','5 uM','7.5 uM','10 uM','15 uM','20 uM'][indexof(['a','b','c','d','e','f','g'], datum.value)]","labelColor":{"expr":"['#e8171f','#1b8a2e','#3a7ad6','#f39432','#6e625c','#6ad62c','#222222'][indexof(['a','b','c','d','e','f','g'], datum.value)]"}}}}},
  {"mark":{"type":"line","opacity":0},"encoding":{"x":{"field":"x","type":"quantitative","axis":{"orient":"top","values":[230,240,250,260,270,280,290,300,310,320,330,340],"labels":false,"title":null}},"y":{"field":"v","type":"quantitative","axis":{"orient":"right","values":[-5,-2.5,0,2.5,5,7.5,10],"labels":false,"title":null}}}},
  {"mark":{"type":"line","opacity":0},"encoding":{"x":{"field":"x","type":"quantitative","axis":null},"y":{"field":"v","type":"quantitative","axis":{"orient":"right","offset":10.5,"domain":true,"domainColor":"#222","domainWidth":1.3,"ticks":false,"labels":false,"title":"G4-HTR","titleFontSize":16,"titleAngle":90,"titleX":10.5,"titleY":79,"titleAlign":"center","titleBaseline":"middle"}}}}
 ],
 "resolve":{"axis":{"x":"independent","y":"independent"}}},
{"width":150,"height":150,"data":{"name":"d"},"transform":[{"filter":"datum.p=='C1'"}],
 "layer":[
  {"mark":{"type":"line","interpolate":"monotone","strokeWidth":1.7,"color":"#e8171f"},
   "encoding":{"x":{"field":"x","type":"quantitative","scale":{"domain":[225,350],"nice":false},"axis":{"orient":"bottom","values":[230,240,250,260,270,280,290,300,310,320,330,340],"labelExpr":"datum.value % 20 == 0 ? '' + datum.value : ''","title":null}},
   "y":{"field":"a","type":"quantitative","scale":{"domain":[-20,45],"nice":false},"axis":{"orient":"left","values":[-20,-15,-10,-5,0,5,10,15,20,25,30,35,40],"labelExpr":"datum.value % 10 == 0 ? '' + datum.value : ''","title":"CD (mDeg)","titleFontSize":10.5,"titleX":-26.5,"titleY":68.5,"titleAlign":"center","titleBaseline":"middle"}}}},
  {"mark":{"type":"line","opacity":0},"encoding":{"x":{"field":"x","type":"quantitative","axis":{"orient":"top","values":[230,240,250,260,270,280,290,300,310,320,330,340],"labels":false,"title":null}},"y":{"field":"a","type":"quantitative","axis":{"orient":"right","values":[-20,-15,-10,-5,0,5,10,15,20,25,30,35,40],"labels":false,"title":null}}}},
  {"mark":{"type":"line","opacity":0},"encoding":{"x":{"field":"x","type":"quantitative","axis":null},"y":{"field":"a","type":"quantitative","axis":{"orient":"left","domain":false,"ticks":false,"labels":false,"title":"C","titleAngle":0,"titleX":-42,"titleY":9.7,"titleAlign":"left","titleBaseline":"alphabetic","titleFontSize":19}}}}
 ],
 "resolve":{"axis":{"x":"independent","y":"independent"}}},
{"width":150,"height":150,"data":{"name":"d"},"transform":[{"filter":"datum.p=='C2'"},{"fold":["a","b","c","d","e","f","g"],"as":["s","v"]}],
 "layer":[
  {"mark":{"type":"line","interpolate":"monotone","strokeWidth":1.6},
   "encoding":{"x":{"field":"x","type":"quantitative","scale":{"domain":[225,350],"nice":false},"axis":{"orient":"bottom","values":[230,240,250,260,270,280,290,300,310,320,330,340],"labelExpr":"datum.value % 20 == 0 ? '' + datum.value : ''","title":"Wavelength (nm)","titleFontSize":16,"titleX":154,"titleY":28,"titleAlign":"center","titleBaseline":"alphabetic"}},
   "y":{"field":"v","type":"quantitative","scale":{"domain":[-20,45],"nice":false},"axis":{"orient":"left","values":[-20,-15,-10,-5,0,5,10,15,20,25,30,35,40],"labels":false,"title":null}},
   "color":{"field":"s","type":"nominal","scale":{"domain":["a","b","c","d","e","f","g"],"range":["#e8171f","#1b8a2e","#3a7ad6","#f39432","#6e625c","#7ff03c","#222222"]},
    "legend":{"title":null,"orient":"none","legendX":104,"legendY":18,"labelFontSize":9.5,"rowPadding":-0.3,"labelExpr":"['0 uM','2.5 uM','5 uM','7.5 uM','10 uM','15 uM','20 uM'][indexof(['a','b','c','d','e','f','g'], datum.value)]","labelColor":{"expr":"['#e8171f','#1b8a2e','#3a7ad6','#f39432','#6e625c','#6ad62c','#222222'][indexof(['a','b','c','d','e','f','g'], datum.value)]"}}}}},
  {"mark":{"type":"line","opacity":0},"encoding":{"x":{"field":"x","type":"quantitative","axis":{"orient":"top","values":[230,240,250,260,270,280,290,300,310,320,330,340],"labels":false,"title":null}},"y":{"field":"v","type":"quantitative","axis":{"orient":"right","values":[-20,-15,-10,-5,0,5,10,15,20,25,30,35,40],"labels":false,"title":null}}}}
 ],
 "resolve":{"axis":{"x":"independent","y":"independent"}}},
{"width":150,"height":150,"data":{"name":"d"},"transform":[{"filter":"datum.p=='C3'"},{"fold":["a","b","c","d","e","f","g"],"as":["s","v"]}],
 "layer":[
  {"mark":{"type":"line","interpolate":"monotone","strokeWidth":1.6},
   "encoding":{"x":{"field":"x","type":"quantitative","scale":{"domain":[225,350],"nice":false},"axis":{"orient":"bottom","values":[230,240,250,260,270,280,290,300,310,320,330,340],"labelExpr":"datum.value % 20 == 0 ? '' + datum.value : ''","title":null}},
   "y":{"field":"v","type":"quantitative","scale":{"domain":[-20,45],"nice":false},"axis":{"orient":"left","values":[-20,-15,-10,-5,0,5,10,15,20,25,30,35,40],"labels":false,"title":null}},
   "color":{"field":"s","type":"nominal","scale":{"domain":["a","b","c","d","e","f","g"],"range":["#e8171f","#1b8a2e","#3a7ad6","#f39432","#6e625c","#7ff03c","#222222"]},
    "legend":{"title":null,"orient":"none","legendX":103,"legendY":11.5,"labelFontSize":9.5,"rowPadding":-0.3,"labelExpr":"['0 uM','2.5 uM','5 uM','7.5 uM','10 uM','15 uM','20 uM'][indexof(['a','b','c','d','e','f','g'], datum.value)]","labelColor":{"expr":"['#e8171f','#1b8a2e','#3a7ad6','#f39432','#6e625c','#6ad62c','#222222'][indexof(['a','b','c','d','e','f','g'], datum.value)]"}}}}},
  {"mark":{"type":"line","opacity":0},"encoding":{"x":{"field":"x","type":"quantitative","axis":{"orient":"top","values":[230,240,250,260,270,280,290,300,310,320,330,340],"labels":false,"title":null}},"y":{"field":"v","type":"quantitative","axis":{"orient":"right","values":[-20,-15,-10,-5,0,5,10,15,20,25,30,35,40],"labels":false,"title":null}}}}
 ],
 "resolve":{"axis":{"x":"independent","y":"independent"}}},
{"width":150,"height":150,"data":{"name":"d"},"transform":[{"filter":"datum.p=='C4'"},{"fold":["a","b","c","d","e","f","g"],"as":["s","v"]}],
 "layer":[
  {"mark":{"type":"line","interpolate":"monotone","strokeWidth":1.6},
   "encoding":{"x":{"field":"x","type":"quantitative","scale":{"domain":[225,350],"nice":false},"axis":{"orient":"bottom","values":[230,240,250,260,270,280,290,300,310,320,330,340],"labelExpr":"datum.value % 20 == 0 ? '' + datum.value : ''","title":null}},
   "y":{"field":"v","type":"quantitative","scale":{"domain":[-20,45],"nice":false},"axis":{"orient":"left","values":[-20,-15,-10,-5,0,5,10,15,20,25,30,35,40],"labels":false,"title":null}},
   "color":{"field":"s","type":"nominal","scale":{"domain":["a","b","c","d","e","f","g"],"range":["#e8171f","#1b8a2e","#3a7ad6","#f39432","#6e625c","#7ff03c","#222222"]},
    "legend":{"title":null,"orient":"none","legendX":105,"legendY":11.5,"labelFontSize":9.5,"rowPadding":-0.3,"labelExpr":"['0 uM','2.5 uM','5 uM','7.5 uM','10 uM','15 uM','20 uM'][indexof(['a','b','c','d','e','f','g'], datum.value)]","labelColor":{"expr":"['#e8171f','#1b8a2e','#3a7ad6','#f39432','#6e625c','#6ad62c','#222222'][indexof(['a','b','c','d','e','f','g'], datum.value)]"}}}}},
  {"mark":{"type":"line","opacity":0},"encoding":{"x":{"field":"x","type":"quantitative","axis":{"orient":"top","values":[230,240,250,260,270,280,290,300,310,320,330,340],"labels":false,"title":null}},"y":{"field":"v","type":"quantitative","axis":{"orient":"right","values":[-20,-15,-10,-5,0,5,10,15,20,25,30,35,40],"labels":false,"title":null}}}},
  {"mark":{"type":"line","opacity":0},"encoding":{"x":{"field":"x","type":"quantitative","axis":null},"y":{"field":"v","type":"quantitative","axis":{"orient":"right","offset":10.5,"domain":true,"domainColor":"#222","domainWidth":1.3,"ticks":false,"labels":false,"title":"G4-TERRA","titleFontSize":16,"titleAngle":90,"titleX":10.5,"titleY":79,"titleAlign":"center","titleBaseline":"middle"}}}}
 ],
 "resolve":{"axis":{"x":"independent","y":"independent"}}}
],
"config": {
 "font": "Liberation Sans",
 "view": {"stroke": "#4d4d4d", "strokeWidth": 1.4},
 "axis": {"domain": false, "grid": false, "tickColor": "#333", "tickSize": -4, "tickWidth": 1, "labelFont": "Liberation Sans", "labelFontSize": 11.5, "labelColor": "#222", "labelFlush": false, "labelOverlap": false, "titleFont": "Liberation Sans", "titleFontWeight": "normal", "titleColor": "#222"},
 "axisBottom": {"labelPadding": 5},
 "axisLeft": {"labelPadding": 9},
 "legend": {"symbolType": "M-1.75,0H1.75", "symbolSize": 64, "symbolStrokeWidth": 2, "labelFont": "Liberation Sans", "labelOffset": 4, "padding": 0},
 "title": {"font": "Liberation Sans", "fontSize": 16, "fontWeight": "normal", "color": "#222", "offset": 3}
}
}
